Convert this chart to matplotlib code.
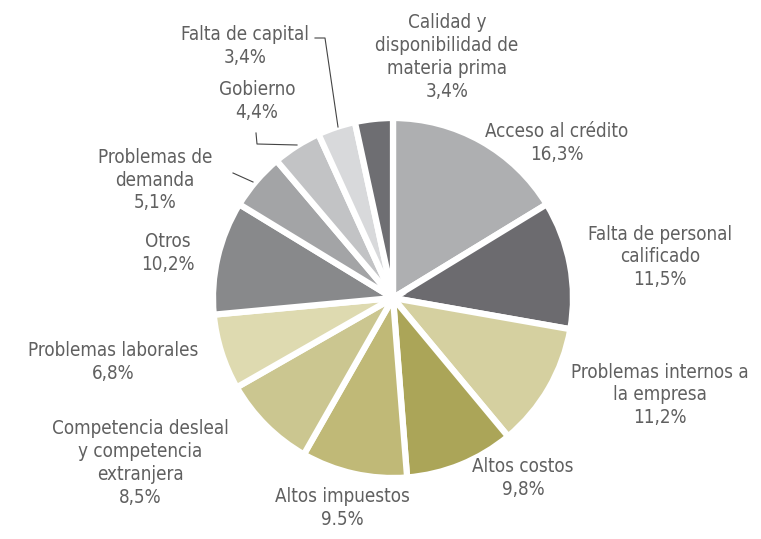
import numpy as np
import matplotlib.pyplot as plt

# data, clockwise from 12 o'clock
labels = ["Acceso al crédito\n16,3%",
          "Falta de personal\ncalificado\n11,5%",
          "Problemas internos a\nla empresa\n11,2%",
          "Altos costos\n9,8%",
          "Altos impuestos\n9.5%",
          "Competencia desleal\ny competencia\nextranjera\n8,5%",
          "Problemas laborales\n6,8%",
          "Otros\n10,2%",
          "Problemas de\ndemanda\n5,1%",
          "Gobierno\n4,4%",
          "Falta de capital\n3,4%",
          "Calidad y\ndisponibilidad de\nmateria prima\n3,4%"]
values = [16.3, 11.5, 11.2, 9.8, 9.5, 8.5, 6.8, 10.2, 5.1, 4.4, 3.4, 3.4]
colors = ["#aeafb1", "#6c6b6f", "#d5d0a0", "#aba558", "#c0b977", "#cbc690",
          "#dedab0", "#88898b", "#a3a4a6", "#c2c3c5", "#d8d9db", "#6e6e72"]

# label positions (image pixels, center of text block)
label_pos = [(557, 143), (660, 257), (660, 395), (523, 478), (342, 508),
             (140, 463), (113, 362), (168, 253), (155, 180), (257, 101),
             (245, 46), (447, 57)]

W, H = 761, 539
fig = plt.figure(figsize=(W / 100, H / 100), dpi=100)
ax = fig.add_axes([0, 0, 1, 1])

ax.pie(values, colors=colors, startangle=90, counterclock=False,
       center=(393, H - 298), radius=180,
       wedgeprops=dict(edgecolor="white", linewidth=4.5), frame=True)
ax.set_xlim(0, W)
ax.set_ylim(0, H)
ax.set_aspect("equal")
ax.axis("off")

for lab, (x, y) in zip(labels, label_pos):
    ax.text(x, H - y, lab, ha="center", va="center", fontsize=13.5,
            color="#606060", family="DejaVu Sans", fontstretch="condensed",
            linespacing=1.25)

# leader lines
lc = dict(color="#444444", lw=0.8)
ax.plot([315, 325, 338], [H - 38, H - 38, H - 127], **lc)
ax.plot([256, 257, 297], [H - 133, H - 144, H - 145], **lc)
ax.plot([233, 253], [H - 173, H - 182], **lc)

fig.savefig("out.png", dpi=100)
